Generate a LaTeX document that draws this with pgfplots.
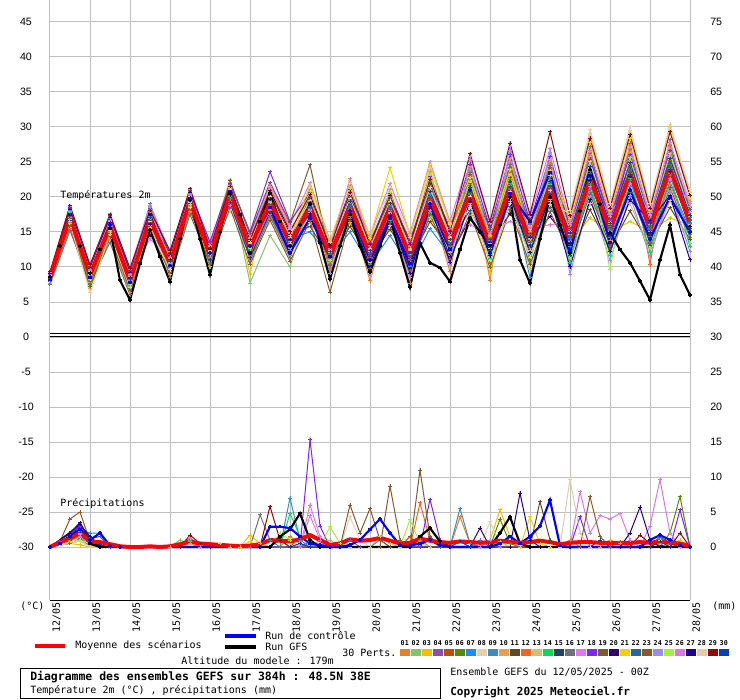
\documentclass[border=0pt]{standalone}
\usepackage{fontspec}
\usepackage{pgfplots}
\usepackage{pgfplotstable}
\pgfplotsset{compat=1.18}
\setmainfont{DejaVu Sans Mono}
\newfontfamily\numf{Liberation Sans}
\definecolor{gridc}{HTML}{C0C0C0}
\definecolor{c01}{HTML}{E67E2E}\definecolor{c02}{HTML}{85C46A}\definecolor{c03}{HTML}{F0C000}
\definecolor{c04}{HTML}{8C50AA}\definecolor{c05}{HTML}{B4520F}\definecolor{c06}{HTML}{5A8A05}
\definecolor{c07}{HTML}{1E8CF5}\definecolor{c08}{HTML}{E6D2AA}\definecolor{c09}{HTML}{3C8CBE}
\definecolor{c10}{HTML}{E6A050}\definecolor{c11}{HTML}{5F4B1E}\definecolor{c12}{HTML}{F5641E}
\definecolor{c13}{HTML}{D2BE78}\definecolor{c14}{HTML}{00DC5A}\definecolor{c15}{HTML}{1E465F}
\definecolor{c16}{HTML}{6E7378}\definecolor{c17}{HTML}{DC78F0}\definecolor{c18}{HTML}{7828F0}
\definecolor{c19}{HTML}{7D5A32}\definecolor{c20}{HTML}{32006E}\definecolor{c21}{HTML}{F0D200}
\definecolor{c22}{HTML}{2864A0}\definecolor{c23}{HTML}{8C5A28}\definecolor{c24}{HTML}{9B8CF0}
\definecolor{c25}{HTML}{A0F03C}\definecolor{c26}{HTML}{DC78DC}\definecolor{c27}{HTML}{1E0096}
\definecolor{c28}{HTML}{E1CDAA}\definecolor{c29}{HTML}{8C0A0A}\definecolor{c30}{HTML}{0A3CBE}
\definecolor{ctrlc}{HTML}{0000FF}
\definecolor{meanc}{HTML}{FF0000}

\pgfplotstableread{
d p01 p02 p03 p04 p05 p06 p07 p08 p09 p10 p11 p12 p13 p14 p15 p16 p17 p18 p19 p20 p21 p22 p23 p24 p25 p26 p27 p28 p29 p30
0 8.5 8.1 8.8 8.3 8.6 8.0 9.0 8.4 8.7 7.7 9.2 8.2 8.5 8.9 8.3 7.5 9.2 9.1 8.7 9.0 8.8 8.4 7.9 8.5 8.2 8.9 8.7 8.0 9.3 8.6
0.5 17.0 16.3 17.6 16.6 17.2 16.0 18.1 16.8 17.3 15.6 18.5 16.4 17.1 17.8 16.7 15.2 18.7 18.3 17.4 18.2 17.7 16.9 15.8 17.0 16.5 17.9 17.5 16.2 18.8 17.3
1 8.8 7.8 9.3 8.3 9.0 7.5 9.7 8.6 9.1 6.9 10.0 8.0 8.9 9.5 8.4 7.7 10.2 9.9 9.2 9.8 9.4 8.7 7.2 8.8 8.2 9.6 9.2 6.3 10.3 9.0
1.5 15.8 14.9 16.4 15.3 16.0 14.6 16.9 15.6 16.1 14.0 17.3 15.1 15.9 16.6 15.5 13.5 17.6 17.1 16.2 17.0 16.5 15.7 14.3 15.8 15.2 16.7 16.3 14.7 17.5 16.1
2 8.0 7.2 8.6 7.6 8.2 6.9 9.1 7.8 8.3 6.4 9.5 7.4 8.1 8.8 7.7 6.0 9.7 9.3 8.4 9.2 8.7 7.9 6.7 8.0 7.5 8.9 8.5 7.1 9.8 8.3
2.5 16.7 16.9 15.9 16.4 17.8 16.6 19.0 16.5 17.2 18.3 16.8 17.5 15.7 17.0 16.2 17.9 18.8 18.4 17.3 14.6 17.7 15.3 15.0 18.6 17.4 14.0 16.1 15.5 18.1 17.1
3 10.5 9.7 11.1 10.1 10.7 9.4 11.6 10.3 10.8 8.9 12.0 9.9 10.6 11.3 10.2 8.5 12.2 11.8 10.9 11.7 11.2 10.4 9.2 10.5 10.0 11.4 11.0 9.6 12.3 10.8
3.5 19.4 18.7 20.0 19.0 19.6 18.4 20.5 19.2 19.7 17.9 20.9 18.8 19.5 20.2 19.1 17.5 21.1 20.7 19.8 20.6 20.1 19.3 18.2 19.4 18.9 20.3 19.9 18.5 21.2 19.7
4 10.8 10.0 13.1 13.5 11.5 11.7 12.1 12.6 11.2 11.8 12.3 11.1 12.9 11.4 12.0 10.7 13.3 13.6 11.9 12.5 12.2 11.6 10.4 11.3 11.8 13.0 12.1 12.4 12.7 11.0
4.5 20.7 21.6 22.5 20.5 19.8 20.1 19.1 21.4 19.6 21.2 19.7 19.4 18.0 20.0 20.4 21.8 22.1 21.9 22.3 20.3 20.8 20.2 18.5 20.9 20.6 18.8 20.3 21.1 21.5 19.2
5 11.1 7.7 8.9 12.8 12.3 12.5 13.1 13.8 11.7 12.8 13.4 11.5 14.1 12.1 12.9 10.8 14.6 15.0 14.8 13.6 13.3 12.4 10.4 11.9 12.6 14.2 13.0 13.5 13.9 11.3
5.5 17.5 14.5 21.5 19.5 18.8 19.1 19.9 20.7 18.2 19.4 20.2 18.0 21.1 18.6 19.6 17.2 21.8 23.6 22.1 20.5 20.0 19.0 16.7 18.4 19.2 21.3 19.7 20.3 20.9 17.8
6 11.6 10.0 15.7 13.7 13.0 13.3 14.1 14.9 12.4 13.6 14.4 12.1 15.3 12.8 13.8 11.3 16.0 16.5 16.3 14.7 14.2 13.2 10.8 12.6 13.4 15.5 13.9 14.5 15.1 11.9
6.5 18.2 19.0 16.3 18.4 19.7 18.7 15.0 21.4 18.9 21.1 15.8 19.3 17.8 16.9 19.9 20.1 22.0 20.6 24.6 17.4 21.7 18.6 16.6 18.0 20.8 17.1 17.6 19.5 20.3 19.2
7 8.3 11.1 12.3 12.6 10.2 11.8 11.5 13.5 12.0 10.7 11.3 9.6 12.1 12.5 11.7 10.4 13.8 13.0 11.6 13.3 13.6 11.9 6.4 9.1 10.9 12.7 13.1 12.4 12.8 12.2
7.5 18.2 19.2 16.3 18.5 20.0 18.8 15.0 21.9 19.0 21.6 15.8 19.6 17.9 16.9 20.2 17.2 20.4 21.0 18.4 17.5 22.3 18.7 16.7 18.1 21.2 22.6 17.7 19.8 20.7 19.4
8 8.0 12.7 10.6 12.9 13.8 11.9 10.3 14.0 12.1 12.5 11.2 13.6 10.8 11.0 11.7 11.4 14.5 13.4 11.6 10.1 14.3 12.0 9.8 8.8 12.2 13.0 9.4 12.6 13.2 12.3
8.5 18.0 18.9 15.9 18.3 19.6 18.6 14.5 21.3 18.8 21.0 15.4 19.2 17.6 16.6 19.8 20.0 21.9 20.5 18.2 17.2 24.2 18.5 16.3 17.8 20.7 16.9 17.4 19.4 20.2 19.1
9 7.7 12.6 10.3 12.8 13.9 11.6 10.0 14.2 11.8 12.3 10.9 13.7 10.5 10.7 11.4 11.1 14.8 13.5 11.3 9.8 14.5 11.7 9.5 8.5 12.0 13.0 9.1 12.5 13.2 12.1
9.5 19.4 20.5 17.1 19.7 21.6 20.1 15.5 24.1 20.3 23.7 16.5 21.1 18.9 17.8 21.9 22.2 25.0 22.9 19.5 18.4 24.6 19.9 17.5 19.2 23.2 18.1 18.7 21.3 22.5 20.8
10 9.3 14.4 12.0 14.6 15.7 13.4 11.7 16.0 13.6 14.1 12.7 15.4 12.3 12.5 13.2 12.9 16.5 15.2 13.1 11.5 16.2 13.5 11.1 10.2 13.8 14.8 10.7 14.2 15.0 13.9
10.5 23.9 20.9 19.1 19.9 23.2 20.3 20.5 20.1 21.7 24.3 20.7 22.5 18.8 21.2 19.7 23.5 25.8 24.7 21.9 17.0 22.8 18.1 17.7 25.3 22.2 16.0 19.4 18.5 26.2 21.4
11 8.1 14.7 9.2 12.2 15.4 10.5 13.1 12.7 13.8 14.3 15.9 14.2 11.9 11.2 12.4 15.1 16.2 15.6 14.0 13.5 14.5 12.9 9.9 13.3 13.4 14.9 11.6 10.9 16.5 13.7
11.5 25.1 21.7 19.8 20.6 24.2 21.0 21.2 20.8 22.5 25.5 21.4 23.5 19.4 21.9 20.3 24.6 27.2 26.0 22.8 17.6 23.9 18.7 18.2 26.6 23.2 16.5 20.1 19.1 27.7 22.2
12 13.7 15.5 9.7 12.7 16.2 10.9 8.5 13.3 14.5 15.1 16.9 14.9 12.4 11.7 13.0 16.0 17.2 16.5 14.7 14.2 15.3 13.5 10.4 13.9 14.0 15.7 12.1 11.4 17.5 14.3
12.5 24.9 21.8 19.7 20.6 24.2 21.1 21.3 20.9 22.5 25.4 21.5 23.4 19.3 22.0 20.3 24.5 26.9 25.8 22.8 17.2 23.8 18.5 17.9 26.4 23.1 16.0 20.0 18.9 29.3 22.2
13 12.6 14.7 13.6 13.8 15.8 14.5 12.9 18.0 14.0 16.0 11.6 15.3 11.2 10.7 13.2 12.3 16.3 15.5 14.2 13.4 16.9 14.3 12.0 8.9 15.1 16.6 10.0 17.7 17.3 14.9
13.5 20.8 24.6 17.0 21.8 23.9 23.3 21.1 29.6 22.7 25.8 18.2 26.2 19.0 22.0 22.5 27.2 26.7 25.4 23.0 22.3 27.8 23.6 20.4 20.0 25.0 21.5 19.6 29.0 28.4 24.3
14 13.8 16.0 15.0 15.2 17.0 15.8 14.2 19.0 15.4 17.2 12.7 16.6 16.4 11.7 14.4 13.5 17.5 16.8 15.5 14.7 18.0 15.7 13.1 10.9 9.6 17.7 12.2 18.7 18.4 16.2
14.5 21.1 25.2 16.5 22.3 24.6 24.0 21.5 30.0 23.4 26.4 18.0 26.8 19.0 22.6 23.2 27.7 27.3 26.0 23.7 22.9 28.3 24.2 20.7 20.2 25.6 21.9 19.6 29.5 28.9 24.9
15 14.1 16.1 15.1 15.3 17.1 15.9 14.4 19.0 15.5 17.3 13.1 10.3 12.7 12.1 14.6 13.8 17.5 16.8 15.6 14.9 18.1 15.8 13.4 11.4 16.4 17.8 16.6 18.7 18.4 16.3
15.5 21.8 25.9 17.0 23.0 25.2 24.6 22.2 30.4 24.1 26.9 18.5 27.3 19.5 23.3 23.9 28.2 27.8 26.6 24.4 23.6 30.0 24.9 21.3 20.8 26.2 22.6 20.2 29.9 29.3 25.5
16 14.9 17.2 16.0 16.2 18.5 17.0 15.2 21.0 16.4 18.7 13.9 17.9 13.4 12.9 15.5 14.6 19.1 18.2 16.6 15.8 19.8 16.8 14.2 12.2 17.7 19.4 11.0 20.6 20.2 17.4
}\Ttab

\pgfplotsset{
  pert/.style={line width=0.75pt, mark=+, mark size=1.3pt, mark options={solid}},
  pr/.style={pert, y filter/.expression={y-30}},
}

\begin{document}
\begin{tikzpicture}[every node/.style={inner sep=0pt}]
\begin{axis}[
  at={(37.5pt,-450pt)}, anchor=south west,
  scale only axis, width=480pt, height=450pt,
  xmin=0, xmax=16, ymin=-37.57, ymax=48.14,
  xtick={0,1,...,16},
  xticklabels={12/05,13/05,14/05,15/05,16/05,17/05,18/05,19/05,20/05,21/05,22/05,23/05,24/05,25/05,26/05,27/05,28/05},
  ytick={-30,-25,...,45},
  yticklabels={-30,-25,-20,-15,-10,-5,0,5,10,15,20,25,30,35,40,45},
  grid=major, major grid style={draw=gridc, line width=0.75pt},
  major tick length=0pt,
  axis line style={draw=none},
  xticklabel style={font=\fontsize{7.5}{8}\selectfont, xshift=5pt, rotate=90, anchor=east, inner sep=1.5pt},
  yticklabel style={font=\numf\fontsize{8}{9}\selectfont, anchor=center, xshift=-18pt},
  clip=true,
]
\draw[black, line width=0.75pt] (axis cs:0,0.05) -- (axis cs:16,0.05);
\draw[black, line width=0.75pt] (axis cs:0,0.45) -- (axis cs:16,0.45);
\pgfplotsinvokeforeach{01,02,03,04,05,06,07,08,09,10,11,12,13,14,15,16,17,18,19,20,21,22,23,24,25,26,27,28,29,30}{
  \addplot[c#1, pert] table[x=d, y=p#1] {\Ttab};
}
\addplot[black, line width=1.6pt, mark=+, mark size=1.3pt] coordinates {
(0,8.6)(0.25,13.0)(0.5,17.5)(0.75,13.0)(1,9.1)(1.25,12.5)(1.5,15.5)(1.75,8.1)(2,5.3)(2.25,10.5)(2.5,15.3)(2.75,11.5)(3,7.9)(3.25,14.0)(3.5,19.6)(3.75,14.0)(4,8.9)(4.25,15.0)(4.5,20.5)(4.75,17.5)(5,12.0)(5.25,16.5)(5.5,20.5)(5.75,16.5)(6,13.0)(6.25,16.0)(6.5,19.0)(6.75,13.5)(7,8.3)(7.25,13.0)(7.5,17.5)(7.75,13.0)(8,9.3)(8.25,13.0)(8.5,17.0)(8.75,12.0)(9,7.1)(9.25,13.4)(9.5,10.6)(9.75,9.9)(10,7.9)(10.25,12.5)(10.5,17.0)(10.75,15.0)(11,13.1)(11.25,16.0)(11.5,20.0)(11.75,11.0)(12,7.7)(12.25,14.0)(12.5,20.0)(12.75,16.0)(13,12.0)(13.25,18.0)(13.5,23.9)(13.75,19.0)(14,14.9)(14.25,12.5)(14.5,10.6)(14.75,8.0)(15,5.3)(15.25,11.0)(15.5,16.0)(15.75,8.9)(16,6.0)};
\addplot[ctrlc, line width=1.6pt, mark=+, mark size=1.3pt] coordinates {
(0,8.2)(0.5,17.5)(1,8.5)(1.5,16.0)(2,7.8)(2.5,17.5)(3,10.2)(3.5,19.8)(4,12.0)(4.5,20.8)(5,13.0)(5.5,18.5)(6,12.0)(6.5,17.0)(7,11.5)(7.5,18.0)(8,11.0)(8.5,17.0)(9,10.5)(9.5,19.0)(10,12.5)(10.5,21.0)(11,12.0)(11.5,20.5)(12,16.5)(12.5,23.5)(13,12.5)(13.5,23.0)(14,13.5)(14.5,21.0)(15,14.0)(15.5,20.0)(16,15.0)};
\addplot[meanc, line width=3pt] coordinates {
(0,8.5)(0.25,12.8)(0.5,17.0)(0.75,12.9)(1,8.8)(1.25,12.3)(1.5,15.8)(1.75,11.9)(2,8.0)(2.25,12.4)(2.5,16.8)(2.75,13.6)(3,10.5)(3.25,15.0)(3.5,19.4)(3.75,15.6)(4,11.8)(4.25,16.0)(4.5,20.3)(4.75,16.5)(5,12.7)(5.25,16.0)(5.5,19.3)(5.75,16.4)(6,13.5)(6.25,16.0)(6.5,18.5)(6.75,15.1)(7,11.8)(7.25,15.2)(7.5,18.6)(7.75,15.2)(8,11.8)(8.25,15.1)(8.5,18.4)(8.75,15.0)(9,11.5)(9.25,15.6)(9.5,19.8)(9.75,16.6)(10,13.3)(10.25,17.0)(10.5,20.6)(10.75,16.9)(11,13.2)(11.25,17.2)(11.5,21.3)(11.75,17.5)(12,13.8)(12.25,17.6)(12.5,21.4)(12.75,17.6)(13,13.9)(13.25,18.2)(13.5,22.6)(13.75,19.0)(14,15.3)(14.25,19.3)(14.5,23.3)(14.75,19.4)(15,15.4)(15.25,19.7)(15.5,24.0)(15.75,20.2)(16,16.3)};

\addplot[c01, pr] coordinates {(0,0)(0.5,1.5)(0.75,2.5)(1,0.5)(1.25,0)(3.25,0)(3.5,0.8)(3.75,0)(5.75,0)(6,1.5)(6.25,0.5)(6.5,0)(9,0)(9.25,1.0)(9.5,0)(10,0)(10.25,4.3)(10.5,0.5)(10.75,0)(12.75,0)(13,1.0)(13.25,0)(16,0)};
\addplot[c02, pr] coordinates {(0,0)(0.5,1.0)(0.75,1.8)(1,0.3)(1.25,0)(3,0)(3.25,1.0)(3.5,0.5)(3.75,0)(6.75,0)(7,1.0)(7.25,0)(11,0)(11.25,0.8)(11.5,0)(16,0)};
\addplot[c03, pr] coordinates {(0,0)(0.5,0.5)(0.75,0.3)(1,0)(4.75,0)(5,1.7)(5.25,0.5)(5.5,0)(10.75,0)(11,1.0)(11.25,5.3)(11.5,1.5)(11.75,0)(15.5,0)(15.75,1.0)(16,0)};
\addplot[c04, pr] coordinates {(0,0)(0.5,2.0)(0.75,3.0)(1,1.0)(1.25,0)(7.25,0)(7.5,1.0)(7.75,0)(10.5,0)(10.75,1.0)(11,0)(16,0)};
\addplot[c05, pr] coordinates {(0,0)(0.5,1.0)(0.75,2.0)(1,0.5)(1.25,0)(6,0)(6.25,1.5)(6.5,0.5)(6.75,0)(8.75,0)(9,1.5)(9.25,0)(14,0)(14.25,0.8)(14.5,0)(16,0)};
\addplot[c06, pr] coordinates {(0,0)(0.75,1.5)(1,0)(6.25,0)(6.5,0.8)(6.75,0)(11,0)(11.25,4.0)(11.5,0.5)(11.75,0)(15.25,0)(15.5,2.0)(15.75,7.2)(16,0)};
\addplot[c07, pr] coordinates {(0,0)(0.5,2.0)(0.75,2.8)(1,1.5)(1.25,0.3)(1.5,0)(5.5,0)(5.75,1.0)(6,0)(8,0)(8.25,1.0)(8.5,0)(15,0)(15.25,1.2)(15.5,0.5)(15.75,0)(16,0)};
\addplot[c08, pr] coordinates {(0,0)(0.75,1.0)(1,0)(7.25,0)(7.5,4.3)(7.75,1.0)(8,0)(10.75,0)(11,3.6)(11.25,0.5)(11.5,0)(16,0)};
\addplot[c09, pr] coordinates {(0,0)(0.5,1.5)(0.75,2.5)(1,2.0)(1.25,2.0)(1.5,0)(3.25,0)(3.5,1.0)(3.75,0)(5.75,0)(6,7.0)(6.25,1.0)(6.5,0)(10,0)(10.25,5.5)(10.5,0.5)(10.75,0)(15,0)(15.25,1.0)(15.5,0)(16,0)};
\addplot[c10, pr] coordinates {(0,0)(0.75,1.5)(1,0.5)(1.25,0)(3.25,0)(3.5,0.5)(3.75,0)(6.5,0)(6.75,1.0)(7,0)(13.75,0)(14,1.0)(14.25,0.5)(14.5,0)(16,0)};
\addplot[c11, pr] coordinates {(0,0)(0.5,1.2)(0.75,3.5)(1,0.8)(1.25,0)(12,0)(12.25,6.5)(12.5,1.0)(12.75,0)(16,0)};
\addplot[c12, pr] coordinates {(0,0)(0.75,2.0)(1,0.5)(1.25,0)(9,0)(9.25,6.3)(9.5,1.0)(9.75,0)(16,0)};
\addplot[c13, pr] coordinates {(0,0)(0.5,0.8)(0.75,1.5)(1,0.5)(1.25,0)(4,0)(4.25,0.5)(4.5,0)(8,0)(8.25,1.5)(8.5,0.5)(8.75,0)(14.25,0)(14.5,1.0)(14.75,0)(16,0)};
\addplot[c14, pr] coordinates {(0,0)(0.75,2.2)(1,0.5)(1.25,0)(3.25,0)(3.5,1.0)(3.75,0.5)(4,0)(5.75,0)(6,4.8)(6.25,1.5)(6.5,0.5)(6.75,0)(16,0)};
\addplot[c15, pr] coordinates {(0,0)(0.75,2.8)(1,1.0)(1.25,0)(9.25,0)(9.5,1.5)(9.75,0)(13.5,0)(13.75,1.0)(14,0)(16,0)};
\addplot[c16, pr] coordinates {(0,0)(0.5,0.5)(0.75,1.2)(1,0.3)(1.25,0)(5,0)(5.25,4.6)(5.5,1.0)(5.75,0)(16,0)};
\addplot[c17, pr] coordinates {(0,0)(0.75,2.5)(1,0.5)(1.25,0)(3.25,0)(3.5,1.4)(3.75,0)(6.25,0)(6.5,6.0)(6.75,1.5)(7,0)(13,0)(13.25,7.9)(13.5,2.0)(13.75,4.5)(14,4.0)(14.25,4.8)(14.5,1.0)(14.75,0)(16,0)};
\addplot[c18, pr] coordinates {(0,0)(0.75,3.0)(1,1.5)(1.25,0)(6.25,0)(6.5,15.3)(6.75,3.0)(7,0)(9.25,0)(9.5,6.8)(9.75,1.0)(10,0)(13,0)(13.25,4.3)(13.5,0)(15.5,0)(15.75,5.3)(16,0)};
\addplot[c19, pr] coordinates {(0,0)(0.75,2.0)(1,0.5)(1.25,0)(7.25,0)(7.5,6.0)(7.75,2.0)(8,5.5)(8.25,1.0)(8.5,0)(9,0)(9.25,11.0)(9.5,1.5)(9.75,0)(16,0)};
\addplot[c20, pr] coordinates {(0,0)(0.5,2.0)(0.75,3.5)(1,1.0)(1.25,0)(10.5,0)(10.75,2.7)(11,0)(16,0)};
\addplot[c21, pr] coordinates {(0,0)(0.75,1.0)(1,0)(4.75,0)(5,0.8)(5.25,0)(11.75,0)(12,4.3)(12.25,0.5)(12.5,0)(16,0)};
\addplot[c22, pr] coordinates {(0,0)(0.75,2.0)(1,1.2)(1.25,1.5)(1.5,0)(15,0)(15.25,1.5)(15.5,0.5)(15.75,0)(16,0)};
\addplot[c23, pr] coordinates {(0,0)(0.25,0.8)(0.5,4.0)(0.75,5.0)(1,0.8)(1.25,0)(8.25,0)(8.5,8.7)(8.75,1.0)(9,0)(13.25,0)(13.5,7.2)(13.75,1.5)(14,0)(16,0)};
\addplot[c24, pr] coordinates {(0,0)(0.75,1.5)(1,0.3)(1.25,0)(10.75,0)(11,1.0)(11.25,0)(16,0)};
\addplot[c25, pr] coordinates {(0,0)(0.75,1.0)(1,0.5)(1.25,0)(5.5,0)(5.75,2.0)(6,1.0)(6.25,0)(6.75,0)(7,2.9)(7.25,0.5)(7.5,0)(8.75,0)(9,3.9)(9.25,0.5)(9.5,0)(15,0)(15.25,1.0)(15.5,0)(16,0)};
\addplot[c26, pr] coordinates {(0,0)(0.75,2.0)(1,0.5)(1.25,0)(3.25,0)(3.5,1.2)(3.75,0)(6.25,0)(6.5,4.5)(6.75,1.0)(7,0)(14.75,0)(15,3.0)(15.25,9.6)(15.5,2.0)(15.75,0)(16,0)};
\addplot[c27, pr] coordinates {(0,0)(0.75,3.2)(1,1.5)(1.25,0)(11.5,0)(11.75,7.7)(12,1.0)(12.25,0)(14.25,0)(14.5,2.0)(14.75,5.7)(15,1.0)(15.25,0)(16,0)};
\addplot[c28, pr] coordinates {(0,0)(0.75,0.8)(1,0)(12.75,0)(13,9.7)(13.25,2.0)(13.5,0)(16,0)};
\addplot[c29, pr] coordinates {(0,0)(0.5,1.5)(0.75,2.5)(1,0.5)(1.25,0)(3.25,0)(3.5,1.7)(3.75,0.5)(4,0)(5.25,0)(5.5,5.8)(5.75,1.0)(6,0)(14.5,0)(14.75,1.7)(15,0.5)(15.5,0)(15.75,2.0)(16,0)};
\addplot[c30, pr] coordinates {(0,0)(0.75,2.3)(1,1.0)(1.25,0.3)(1.5,0)(6,0)(6.25,0.5)(6.5,0)(10,0)(10.25,0.8)(10.5,0)(15,0)(15.25,0.8)(15.5,0)(16,0)};
\addplot[black, line width=1.6pt, mark=+, mark size=1.3pt, y filter/.expression={y-30}] coordinates {
(0,0)(0.25,0.5)(0.5,1.5)(0.75,2.5)(1,0.5)(1.25,0)(5.5,0)(5.75,1.5)(6,2.5)(6.25,4.8)(6.5,1.0)(6.75,0)(9,0)(9.25,1.5)(9.5,2.7)(9.75,0.8)(10,0)(11,0)(11.25,2.0)(11.5,4.3)(11.75,0.5)(12,0)(16,0)};
\addplot[ctrlc, line width=1.6pt, mark=+, mark size=1.3pt, y filter/.expression={y-30}] coordinates {
(0,0)(0.25,0.5)(0.5,1.5)(0.75,2.5)(1,1.0)(1.25,2.0)(1.5,0.2)(1.75,0)(5.25,0)(5.5,2.9)(5.75,2.9)(6,2.7)(6.25,1.5)(6.5,0.5)(6.75,0.3)(7,0)(7.25,0)(7.5,0.3)(7.75,1.0)(8,2.5)(8.25,4.0)(8.5,2.0)(8.75,0.3)(9,0.2)(9.25,0.5)(9.5,1.0)(9.75,0.3)(10,0)(11,0)(11.25,0.5)(11.5,1.5)(11.75,0.5)(12,1.5)(12.25,3.0)(12.5,6.7)(12.75,0.2)(13,0)(14.75,0)(15,1.0)(15.25,1.7)(15.5,1.0)(15.75,0.3)(16,0)};
\addplot[meanc, line width=3pt, y filter/.expression={y-30}] coordinates {
(0,0)(0.25,0.7)(0.5,1.2)(0.75,2.0)(1,0.8)(1.25,0.7)(1.5,0.4)(1.75,0.1)(2,0)(2.25,0)(2.5,0.1)(2.75,0)(3,0.1)(3.25,0.4)(3.5,0.8)(3.75,0.5)(4,0.4)(4.25,0.3)(4.5,0.2)(4.75,0.1)(5,0.2)(5.25,0.4)(5.5,1.0)(5.75,0.9)(6,0.8)(6.25,1.1)(6.5,1.7)(6.75,1.0)(7,0.3)(7.25,0.5)(7.5,1.1)(7.75,0.9)(8,1.0)(8.25,1.3)(8.5,0.9)(8.75,0.5)(9,0.6)(9.25,1.2)(9.5,0.9)(9.75,0.7)(10,0.6)(10.25,0.8)(10.5,0.7)(10.75,0.6)(11,0.7)(11.25,0.9)(11.5,0.7)(11.75,0.6)(12,0.7)(12.25,0.9)(12.5,0.7)(12.75,0.4)(13,0.6)(13.25,0.7)(13.5,0.7)(13.75,0.6)(14,0.6)(14.25,0.6)(14.5,0.6)(14.75,0.7)(15,0.6)(15.25,0.8)(15.5,0.6)(15.75,0.5)(16,0.1)};
\end{axis}
\begin{axis}[
  at={(37.5pt,-450pt)}, anchor=south west,
  scale only axis, width=480pt, height=450pt,
  xmin=0, xmax=16, ymin=-7.57, ymax=78.14,
  axis x line=none, axis y line*=right, axis line style={draw=none},
  ytick={0,5,...,75},
  yticklabels={0,5,10,15,20,25,30,35,40,45,50,55,60,65,70,75},
  major tick length=0pt,
  yticklabel style={font=\numf\fontsize{8}{9}\selectfont, anchor=west, inner sep=0pt, xshift=15pt},
]
\addplot[draw=none] coordinates {(0,0)(16,0)};
\end{axis}
\begin{scope}[x=0.75pt, y=0.75pt]
\draw[black, line width=0.75pt] (50,-600) -- (690,-600);
\node[anchor=west, font=\fontsize{7.5}{8}\selectfont] at (60,-196) {Températures 2m};
\node[anchor=west, font=\fontsize{7.5}{8}\selectfont] at (60,-504) {Précipitations};
\node[anchor=west, font=\fontsize{7.5}{8}\selectfont] at (20,-606) {(°C)};
\node[anchor=west, font=\fontsize{7.5}{8}\selectfont] at (712,-606) {(mm)};
\draw[meanc, line width=3pt] (35,-646) -- (65,-646);
\node[anchor=west, font=\fontsize{7.5}{8}\selectfont] at (75,-646) {Moyenne des scénarios};
\draw[ctrlc, line width=3pt] (225,-636) -- (256,-636);
\node[anchor=west, font=\fontsize{7.5}{8}\selectfont] at (265,-636) {Run de contrôle};
\draw[black, line width=3pt] (225,-647) -- (256,-647);
\node[anchor=west, font=\fontsize{7.5}{8}\selectfont] at (265,-647) {Run GFS};
\node[anchor=west, font=\fontsize{7.5}{8}\selectfont] at (342,-653) {30 Perts.};
\node[anchor=west, font=\fontsize{7.5}{8}\selectfont] at (181,-661) {Altitude du modele : 179m};
\foreach \c [count=\n from 0] in {01,02,03,04,05,06,07,08,09,10,11,12,13,14,15,16,17,18,19,20,21,22,23,24,25,26,27,28,29,30}{
  \fill[c\c] ({400+11*\n},-649) rectangle ({409.5+11*\n},-656);
  \node[font=\bfseries\fontsize{5}{5}\selectfont] at ({404.75+11*\n},-643) {\c};
}
\draw[black, line width=0.75pt] (20,-668) rectangle (440,-698);
\node[anchor=west, font=\bfseries\fontsize{8.6}{9}\selectfont] at (30,-677) {Diagramme des ensembles GEFS sur 384h : 48.5N 38E};
\node[anchor=west, font=\fontsize{7.5}{8}\selectfont] at (30,-691) {Température 2m (°C) , précipitations (mm)};
\node[anchor=west, font=\fontsize{7.5}{8}\selectfont] at (450,-672) {Ensemble GEFS du 12/05/2025 - 00Z};
\node[anchor=west, font=\bfseries\fontsize{8.3}{9}\selectfont] at (450,-692) {Copyright 2025 Meteociel.fr};
\pgfresetboundingbox
\useasboundingbox (0,0) rectangle (740,-700);
\end{scope}
\end{tikzpicture}
\end{document}
